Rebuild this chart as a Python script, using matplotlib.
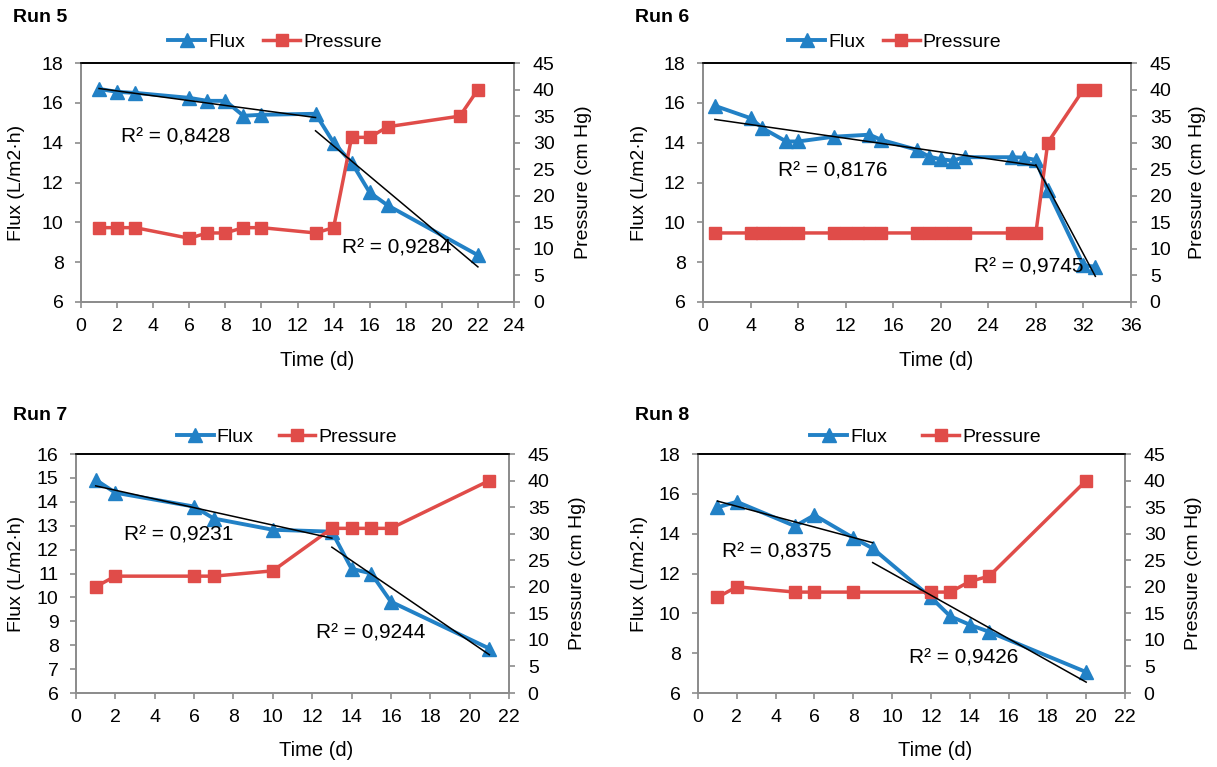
import matplotlib
matplotlib.use("Agg")
import matplotlib.pyplot as plt
import numpy as np

plt.rcParams['font.family'] = ['Liberation Sans', 'DejaVu Sans']

BLUE = '#2281c6'
RED = '#e04c49'

# ---- data ----
run5_flux_t = [1, 2, 3, 6, 7, 8, 9, 10, 13, 14, 15, 16, 17, 22]
run5_flux = [16.7, 16.55, 16.5, 16.25, 16.1, 16.1, 15.35, 15.4, 15.45, 14.0, 13.0, 11.5, 10.85, 8.35]
run5_pres_t = [1, 2, 3, 6, 7, 8, 9, 10, 13, 14, 15, 16, 17, 21, 22]
run5_pres = [14, 14, 14, 12, 13, 13, 14, 14, 13, 14, 31, 31, 33, 35, 40]
run5_r2 = ['R² = 0,8428', 'R² = 0,9284']

run6_flux_t = [1, 4, 5, 7, 8, 11, 14, 15, 18, 19, 20, 21, 22, 26, 27, 28, 29, 32, 33]
run6_flux = [15.85, 15.23, 14.73, 14.06, 14.06, 14.3, 14.4, 14.14, 13.64, 13.3, 13.17, 13.1,
             13.27, 13.27, 13.25, 13.13, 11.6, 7.85, 7.77]
run6_pres_t = [1, 4, 5, 6, 7, 8, 11, 12, 13, 14, 15, 18, 19, 20, 21, 22, 26, 27, 28, 29, 32, 33]
run6_pres = [13, 13, 13, 13, 13, 13, 13, 13, 13, 13, 13, 13, 13, 13, 13, 13, 13, 13, 13, 30, 40, 40]
run6_r2 = ['R² = 0,8176', 'R² = 0,9745']

run7_flux_t = [1, 2, 6, 7, 10, 13, 14, 15, 16, 21]
run7_flux = [14.92, 14.38, 13.8, 13.3, 12.83, 12.75, 11.2, 11.0, 9.82, 7.86]
run7_pres_t = [1, 2, 6, 7, 10, 13, 14, 15, 16, 21]
run7_pres = [20, 22, 22, 22, 23, 31, 31, 31, 31, 40]
run7_r2 = ['R² = 0,9231', 'R² = 0,9244']

run8_flux_t = [1, 2, 5, 6, 8, 9, 12, 13, 14, 15, 20]
run8_flux = [15.32, 15.6, 14.38, 14.93, 13.79, 13.26, 10.8, 9.85, 9.43, 9.07, 7.05]
run8_pres_t = [1, 2, 5, 6, 8, 12, 13, 14, 15, 20]
run8_pres = [18, 20, 19, 19, 19, 19, 19, 21, 22, 40]
run8_r2 = ['R² = 0,8375', 'R² = 0,9426']

# trend segments: (first, last) time of each linear fit
run5_fits = [(1, 13), (13, 22)]
run6_fits = [(1, 28), (28, 33)]
run7_fits = [(1, 13), (13, 21)]
run8_fits = [(1, 9), (9, 20)]

runs = [
    dict(name='Run 5', ft=run5_flux_t, f=run5_flux, pt=run5_pres_t, p=run5_pres, r2=run5_r2, fits=run5_fits,
         xmax=24, xstep=2, ymin=6, ymax=18, ystep=2,
         rect=[81, 63, 514, 302], title_xy=(13, 18), r2_xy=[(2.2, 14.3), (14.45, 8.7)],
         leg=(0.448, 21, 0.93), xlab=0.545, ylab=(-64, 69)),
    dict(name='Run 6', ft=run6_flux_t, f=run6_flux, pt=run6_pres_t, p=run6_pres, r2=run6_r2, fits=run6_fits,
         xmax=36, xstep=4, ymin=6, ymax=18, ystep=2,
         rect=[703, 63, 1131, 302], title_xy=(635, 18), r2_xy=[(6.3, 12.6), (22.8, 7.75)],
         leg=(0.448, 21, 0.93), xlab=0.544, ylab=(-64, 67)),
    dict(name='Run 7', ft=run7_flux_t, f=run7_flux, pt=run7_pres_t, p=run7_pres, r2=run7_r2, fits=run7_fits,
         xmax=22, xstep=2, ymin=6, ymax=16, ystep=1,
         rect=[76, 454, 509, 693], title_xy=(13, 415), r2_xy=[(2.45, 12.6), (12.2, 8.5)],
         leg=(0.487, 17, 1.29), xlab=0.554, ylab=(-59, 68)),
    dict(name='Run 8', ft=run8_flux_t, f=run8_flux, pt=run8_pres_t, p=run8_pres, r2=run8_r2, fits=run8_fits,
         xmax=22, xstep=2, ymin=6, ymax=18, ystep=2,
         rect=[698, 454, 1125, 693], title_xy=(635, 415), r2_xy=[(1.25, 13.1), (10.85, 7.75)],
         leg=(0.533, 17, 1.8), xlab=0.555, ylab=(-59, 68)),
]

W, H = 1217, 767
fig = plt.figure(figsize=(W / 100, H / 100), dpi=100)

for r in runs:
    x0, y0, x1, y1 = r['rect']
    pw, ph = x1 - x0, y1 - y0
    ax = fig.add_axes([x0 / W, 1 - y1 / H, pw / W, ph / H])
    ax2 = ax.twinx()

    ft = np.array(r['ft'])
    f = np.array(r['f'])
    lf, = ax.plot(ft, f, color=BLUE, lw=2.8, marker='^', ms=10.5, label='Flux', zorder=3)
    lp, = ax2.plot(r['pt'], r['p'], color=RED, lw=2.5, marker='s', ms=9, label='Pressure', zorder=3)

    # linear trendlines fitted on the flux points of each stage (drawn on top, like Excel)
    for (a, b) in r['fits']:
        m = (ft >= a) & (ft <= b)
        k, c = np.polyfit(ft[m], f[m], 1)
        xs = np.array([a, b])
        ax2.plot(xs, (k * xs + c - r['ymin']) / (r['ymax'] - r['ymin']) * 45,
                 color='black', lw=1.1, zorder=4)

    for txt, (tx, ty) in zip(r['r2'], r['r2_xy']):
        ax.text(tx, ty, txt, fontsize=15, va='center', ha='left', zorder=5)

    ax.set_xlim(0, r['xmax'])
    ax.set_ylim(r['ymin'], r['ymax'])
    ax2.set_ylim(0, 45)
    ax.set_xticks(np.arange(0, r['xmax'] + 1, r['xstep']))
    ax.set_yticks(np.arange(r['ymin'], r['ymax'] + 0.1, r['ystep']))
    ax2.set_yticks(np.arange(0, 46, 5))

    for a in (ax, ax2):
        for s in ('left', 'right', 'bottom'):
            a.spines[s].set_color('#8c8c8c')
            a.spines[s].set_linewidth(1.3)
        a.spines['top'].set_color('black')
        a.spines['top'].set_linewidth(1.2)
        a.tick_params(axis='both', direction='out', length=4, width=1.2, color='#8c8c8c',
                      labelsize=14)
    ax.tick_params(axis='y', pad=8.5)
    ax.tick_params(axis='x', pad=7.5)
    ax2.tick_params(axis='y', pad=9.5)

    ax.set_xlabel('Time (d)', fontsize=14.5, va='center')
    ax.xaxis.set_label_coords(r['xlab'], -58 / ph)
    ax.set_ylabel('Flux (L/m2·h)', fontsize=14, va='center')
    ax.yaxis.set_label_coords(r['ylab'][0] / pw, 0.5)
    ax2.set_ylabel('Pressure (cm Hg)', fontsize=14, va='center')
    ax2.yaxis.set_label_coords(1 + r['ylab'][1] / pw, 0.5)

    lx, ly, csp = r['leg']
    ax.legend([lf, lp], ['Flux', 'Pressure'], loc='center', bbox_to_anchor=(lx, 1 + ly / ph),
              ncol=2, frameon=False, fontsize=14, handlelength=1.9, handletextpad=0.15,
              columnspacing=csp, borderaxespad=0, borderpad=0)

    fig.text(r['title_xy'][0] / W, 1 - r['title_xy'][1] / H, r['name'], fontsize=14,
             fontweight='bold', ha='left', va='center')

fig.savefig('out.png', dpi=100)
